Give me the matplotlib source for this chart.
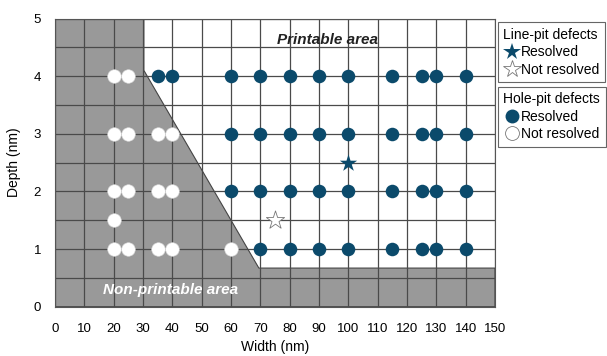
import matplotlib
matplotlib.use("Agg")
import matplotlib.pyplot as plt
from matplotlib.patches import Polygon
from matplotlib.lines import Line2D

plt.rcParams['font.family'] = ['Liberation Sans', 'DejaVu Sans']

NAVY = '#0b4a6b'
GREY_AREA = '#999999'

# Hole-pit defects (width nm, depth nm)
hole_resolved_x = [35, 40, 60, 70, 80, 90, 100, 115, 125, 130, 140,
                   60, 70, 80, 90, 100, 115, 125, 130, 140,
                   60, 70, 80, 90, 100, 115, 125, 130, 140,
                   70, 80, 90, 100, 115, 125, 130, 140]
hole_resolved_y = [4] * 11 + [3] * 9 + [2] * 9 + [1] * 8

hole_unresolved_x = [20, 25, 20, 25, 35, 40, 20, 25, 35, 40, 20, 20, 25, 35, 40, 60]
hole_unresolved_y = [4, 4, 3, 3, 3, 3, 2, 2, 2, 2, 1.5, 1, 1, 1, 1, 1]

# Line-pit defects
line_resolved_x = [100]
line_resolved_y = [2.5]
line_unresolved_x = [75]
line_unresolved_y = [1.5]

# Boundary of the non-printable region
boundary_x = [0, 30.3, 30.3, 69.5, 150, 150, 0]
boundary_y = [5, 5, 4.1, 0.67, 0.67, 0, 0]

x_ticks = list(range(0, 151, 10))
y_ticks = [0, 1, 2, 3, 4, 5]

fig = plt.figure(figsize=(6.07, 3.56), dpi=100)
ax = fig.add_axes([0.0906, 0.1385, 0.7249, 0.8095])

ax.add_patch(Polygon(list(zip(boundary_x, boundary_y)), closed=True,
                     facecolor=GREY_AREA, edgecolor='#444444', lw=0.8, zorder=1))

for xv in x_ticks:
    ax.axvline(xv, color='#4a4a4a', lw=0.9, zorder=2)
for k in range(11):
    ax.axhline(k * 0.5, color='#4a4a4a', lw=0.9, zorder=2)

ax.scatter(hole_resolved_x, hole_resolved_y, s=95, color=NAVY, zorder=4, linewidths=0)
ax.scatter(hole_unresolved_x, hole_unresolved_y, s=95, facecolor='white',
           edgecolor='#dddddd', linewidths=0.4, zorder=4)
ax.scatter(line_resolved_x, line_resolved_y, s=170, marker='*', color=NAVY,
           zorder=5, linewidths=0)
ax.scatter(line_unresolved_x, line_unresolved_y, s=190, marker='*', facecolor='white',
           edgecolor='#777777', linewidths=0.6, zorder=5)

ax.text(93, 4.62, 'Printable area', fontsize=11, fontweight='bold', fontstyle='italic',
        ha='center', va='center', color='#222222', zorder=6)
ax.text(39.5, 0.29, 'Non-printable area', fontsize=11, fontweight='bold',
        fontstyle='italic', ha='center', va='center', color='white', zorder=6)

ax.set_xlim(0, 150)
ax.set_ylim(0, 5)
ax.set_xticks(x_ticks)
ax.set_yticks(y_ticks)
ax.tick_params(length=0, labelsize=9.5)
ax.tick_params(axis='x', pad=12)
ax.tick_params(axis='y', pad=10)
for s in ax.spines.values():
    s.set_color('#555555')
    s.set_linewidth(0.8)
ax.set_xlabel('Width (nm)', fontsize=10, labelpad=3)
ax.set_ylabel('Depth (nm)', fontsize=10, labelpad=9)

line_handles = [
    Line2D([], [], marker='*', ls='', markersize=13, color=NAVY, markeredgewidth=0),
    Line2D([], [], marker='*', ls='', markersize=13, markerfacecolor='white',
           markeredgecolor='#777777', markeredgewidth=0.6),
]
hole_handles = [
    Line2D([], [], marker='o', ls='', markersize=10, color=NAVY, markeredgewidth=0),
    Line2D([], [], marker='o', ls='', markersize=10, markerfacecolor='white',
           markeredgecolor='#777777', markeredgewidth=0.6),
]

legend_kw = dict(fontsize=10, title_fontsize=10, fancybox=False, framealpha=1,
                 edgecolor='#666666', handletextpad=0.0, handlelength=1.3,
                 borderpad=0.4, labelspacing=0.25, alignment='left',
                 borderaxespad=0)
leg1 = fig.legend(line_handles, ['Resolved', 'Not resolved'], title='Line-pit defects',
                  loc='upper left', bbox_to_anchor=(0.82, 0.937), **legend_kw)
leg1.get_frame().set_linewidth(0.8)
leg2 = fig.legend(hole_handles, ['Resolved', 'Not resolved'], title='Hole-pit defects',
                  loc='upper left', bbox_to_anchor=(0.82, 0.757), **legend_kw)
leg2.get_frame().set_linewidth(0.8)

fig.savefig('out.png', dpi=100)
